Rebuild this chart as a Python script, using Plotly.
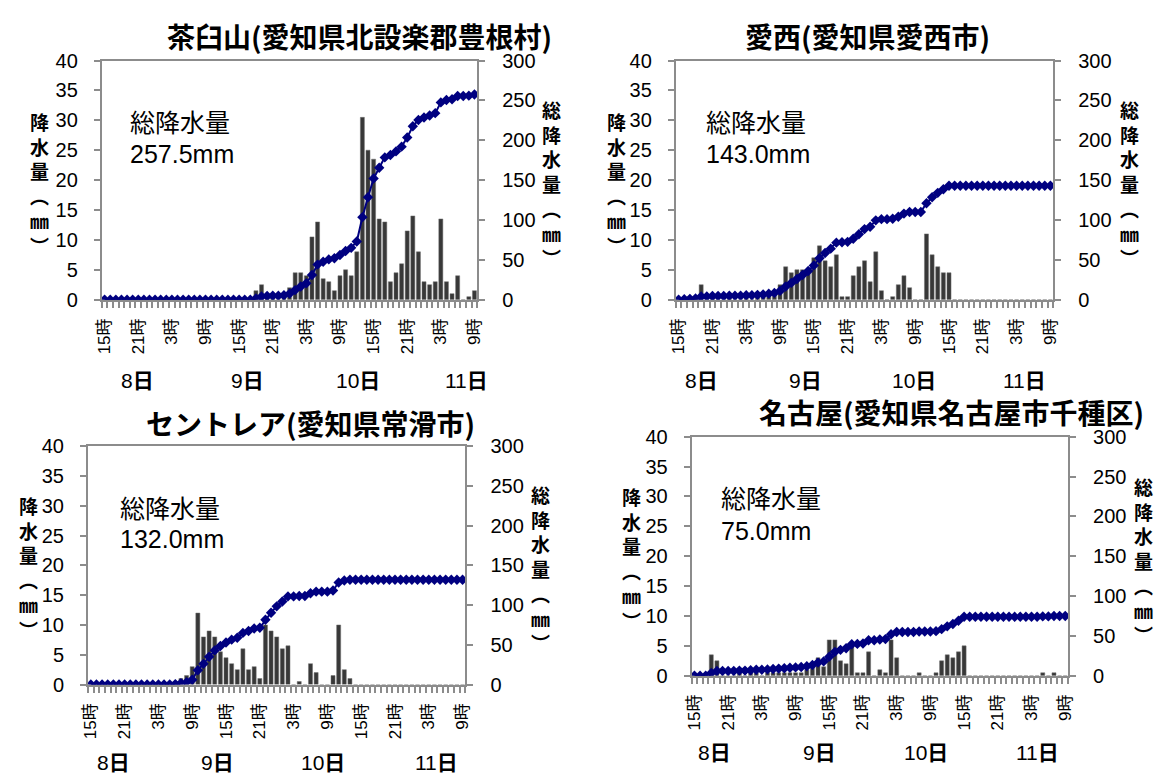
import itertools
import plotly.graph_objects as go

W, H = 1159, 782

hour_labels = ["15時", "21時", "3時", "9時"] * 3
day_labels = ["8日", "9日", "10日", "11日"]
hours = list(range(67))  # 8日15時 .. 11日9時

# hourly rainfall (mm)
chausuyama = [0] * 27 + [
    1.5, 2.5, 0.5, 0.5, 0, 0.5, 2.0, 4.5, 4.5, 4.0, 10.5, 13.0, 3.5, 3.0, 1.5,
    4.0, 5.0, 4.0, 8.0, 30.5, 25.0, 23.5, 13.5, 13.0, 3.0, 4.5, 6.0, 11.5, 14.0,
    8.0, 3.0, 2.5, 3.0, 13.5, 3.0, 1.0, 4.0, 0, 0.5, 1.5]
aisai = [
    0, 0.5, 0.5, 0.5, 2.5, 0, 0.5, 0, 0, 0.5, 0, 0, 0.5, 0, 0.5, 0.5, 1.0, 1.0,
    2.5, 5.5, 4.5, 5.0, 5.0, 5.0, 7.0, 9.0, 6.5, 5.5, 7.5, 0.5, 0.5, 4.0, 5.5,
    6.5, 3.0, 8.0, 1.5, 0, 0.5, 2.5, 4.0, 2.0, 0, 0, 11.0, 7.5, 5.5, 4.5, 4.5] + [0] * 18
centrair = [0] * 15 + [
    0.5, 1.0, 1.5, 3.0, 12.0, 8.0, 9.0, 8.0, 5.5, 4.5, 3.5, 2.5, 6.0, 2.5, 3.0,
    1.0, 10.0, 9.0, 8.0, 6.0, 6.5, 0, 0.5, 0, 3.5, 2.0, 0, 0, 1.5, 10.0, 2.5,
    1.0] + [0] * 20
nagoya = [
    0, 0, 0, 3.5, 2.5, 0, 0, 0, 0.5, 0, 0.5, 0.5, 0, 0.5, 0.5, 0.5, 0.5, 0.5,
    0.5, 0.5, 1.0, 1.5, 3.0, 1.5, 6.0, 6.0, 2.5, 2.0, 5.0, 0.5, 0.5, 4.0, 0,
    1.0, 0.5, 6.0, 3.0, 0, 0, 0, 0.5, 0, 0, 0.5, 2.5, 3.5, 3.0, 4.0, 5.0] + [0] * 13 + [0.5, 0, 0.5, 0, 0]

stations = [chausuyama, aisai, centrair, nagoya]
titles = ["茶臼山(愛知県北設楽郡豊根村)", "愛西(愛知県愛西市)",
          "セントレア(愛知県常滑市)", "名古屋(愛知県名古屋市千種区)"]
totals = ["257.5mm", "143.0mm", "132.0mm", "75.0mm"]

JP = "Noto Sans CJK JP"
NUM = "Liberation Sans, Arial, sans-serif"
GRAY = "#8c8c8c"

# pixel boxes for each panel: plot area, title, text, axis titles, day labels
panels = [
    dict(box=(96, 476, 51, 297), title=(357, 26), txt=(122, 113, 147),
         lt=(33, 178), rt=(551, 177), days=([132, 243, 355, 465], 380)),
    dict(box=(677, 1059, 51, 297), title=(871, 26), txt=(706, 113, 147),
         lt=(617, 178), rt=(1136, 177), days=([703, 808, 918, 1030], 380)),
    dict(box=(82, 464, 448, 693), title=(307, 424), txt=(112, 510, 543),
         lt=(22, 573), rt=(540, 574), days=([108, 213, 320, 435], 773)),
    dict(box=(693, 1074, 438, 684), title=(956, 413), txt=(721, 500, 535),
         lt=(632, 563), rt=(1150, 565), days=([716, 822, 930, 1043], 763)),
]


def px(x):
    return x / W


def py(y):
    return 1 - y / H


fig = go.Figure()
annotations = []
layout = {}

for k, (hourly, p) in enumerate(zip(stations, panels)):
    n = k + 1
    xname = "x" if n == 1 else f"x{n}"
    yl = "y" if n == 1 else f"y{2 * n - 1}"
    yr = f"y{2 * n}"
    cum = list(itertools.accumulate(hourly))

    fig.add_trace(go.Bar(x=hours, y=hourly, xaxis=xname, yaxis=yl, width=0.72,
                         marker=dict(color="#383838", line=dict(color="#707070", width=0.5)),
                         showlegend=False))
    fig.add_trace(go.Scatter(x=hours, y=cum, xaxis=xname, yaxis=yr, mode="lines+markers",
                             line=dict(color="#000080", width=2),
                             marker=dict(symbol="diamond", size=8, color="#000080"),
                             showlegend=False))

    x0, x1, y0, y1 = p["box"]
    layout["xaxis" if n == 1 else f"xaxis{n}"] = dict(
        domain=[px(x0), px(x1)], anchor=yl, range=[-0.5, 66.5],
        tickmode="array", tickvals=list(range(0, 67, 6)), ticktext=hour_labels,
        tickangle=-90, ticks="", ticklabelstandoff=10,
        tickfont=dict(family=NUM + ", " + JP, size=17, color="#000"),
        showline=True, linecolor=GRAY, linewidth=2, mirror=True,
        showgrid=False, zeroline=False,
        minor=dict(ticks="outside", ticklen=6, tickcolor=GRAY, tickwidth=1.5,
                   tick0=0.5, dtick=1, showgrid=False))
    layout["yaxis" if n == 1 else f"yaxis{2 * n - 1}"] = dict(
        domain=[py(y1), py(y0)], anchor=xname, range=[0, 40], dtick=5,
        ticks="outside", ticklen=6, tickcolor=GRAY, tickwidth=1.5, ticklabelstandoff=12,
        tickfont=dict(family=NUM, size=20, color="#000"),
        showline=True, linecolor=GRAY, linewidth=2, showgrid=False, zeroline=False)
    layout[f"yaxis{2 * n}"] = dict(
        domain=[py(y1), py(y0)], anchor=xname, overlaying=yl, side="right",
        range=[0, 300], dtick=50,
        ticks="outside", ticklen=6, tickcolor=GRAY, tickwidth=1.5, ticklabelstandoff=13,
        tickfont=dict(family=NUM, size=20, color="#000"),
        showline=True, linecolor=GRAY, linewidth=2, showgrid=False, zeroline=False)

    tx, ty = p["title"]
    annotations.append(dict(x=px(tx), y=py(ty), text="<b>" + titles[k] + "</b>",
                            font=dict(family=JP, size=28, color="#000")))
    ax, ay1, ay2 = p["txt"]
    annotations.append(dict(x=px(ax), y=py(ay1), text="総降水量", xanchor="left",
                            font=dict(family=JP, size=25, color="#000")))
    annotations.append(dict(x=px(ax), y=py(ay2), text=totals[k], xanchor="left",
                            font=dict(family=NUM, size=25, color="#000")))
    lx, ly = p["lt"]
    annotations.append(dict(x=px(lx), y=py(ly), text="<b>降<br>水<br>量<br>︵<br>㎜<br>︶</b>",
                            font=dict(family=JP, size=19, color="#000")))
    rx, ry = p["rt"]
    annotations.append(dict(x=px(rx), y=py(ry), text="<b>総<br>降<br>水<br>量<br>︵<br>㎜<br>︶</b>",
                            font=dict(family=JP, size=19, color="#000")))
    dxs, dy = p["days"]
    for d, dx in zip(day_labels, dxs):
        annotations.append(dict(x=px(dx), y=py(dy), text=d[:-1] + "<b>日</b>",
                                font=dict(family=NUM + ", " + JP, size=21, color="#000")))

for a in annotations:
    a.setdefault("xanchor", "center")
    a.update(xref="paper", yref="paper", yanchor="middle", showarrow=False)

fig.update_layout(**layout)
fig.update_layout(width=W, height=H, margin=dict(l=0, r=0, t=0, b=0),
                  plot_bgcolor="white", paper_bgcolor="white", bargap=0.25,
                  annotations=annotations, showlegend=False)

fig.write_html("out.html", config={"displayModeBar": False},
               post_script="document.body.style.margin='0';")
